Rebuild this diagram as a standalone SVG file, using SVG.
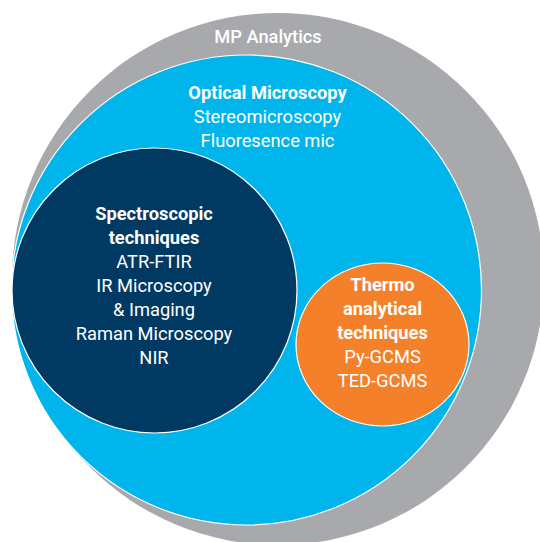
<svg xmlns="http://www.w3.org/2000/svg" width="540" height="542" viewBox="0 0 540 542">
<style>
.t{font-family:Roboto,"Liberation Sans",sans-serif;fill:#fff;text-anchor:middle;font-size:18.3px}
.b{font-weight:700}
.m{font-weight:500}
.c{stroke:#fff;stroke-width:1.2}
</style>
<rect width="540" height="542" fill="#fff"/>
<g id="mp-analytics">
<circle cx="278" cy="279" r="266" fill="#A7A9AC"/>
<text class="t m" x="268" y="43">MP Analytics</text>
</g>
<g id="optical-microscopy">
<circle class="c" cx="246.5" cy="290" r="235" fill="#00B4EC"/>
<text class="t b" x="267.5" y="99">Optical Microscopy</text>
<text class="t" x="267.5" y="123">Stereomicroscopy</text>
<text class="t" x="267.5" y="147">Fluoresence mic</text>
</g>
<g id="spectroscopic">
<circle class="c" cx="154.5" cy="290.5" r="142.5" fill="#003A63"/>
<text class="t b" x="154" y="220">Spectroscopic</text>
<text class="t b" x="154" y="244">techniques</text>
<text class="t" x="154" y="268">ATR-FTIR</text>
<text class="t" x="154" y="292">IR Microscopy</text>
<text class="t" x="154" y="316">&amp; Imaging</text>
<text class="t" x="154" y="340">Raman Microscopy</text>
<text class="t" x="154" y="364">NIR</text>
</g>
<g id="thermo">
<ellipse class="c" cx="382.5" cy="344.5" rx="86.5" ry="81.5" fill="#F4812A"/>
<text class="t b" x="382.5" y="291">Thermo</text>
<text class="t b" x="382.5" y="315">analytical</text>
<text class="t b" x="382.5" y="339">techniques</text>
<text class="t" x="382.5" y="363">Py-GCMS</text>
<text class="t" x="382.5" y="387">TED-GCMS</text>
</g>
<g id="connectors"/>
</svg>
